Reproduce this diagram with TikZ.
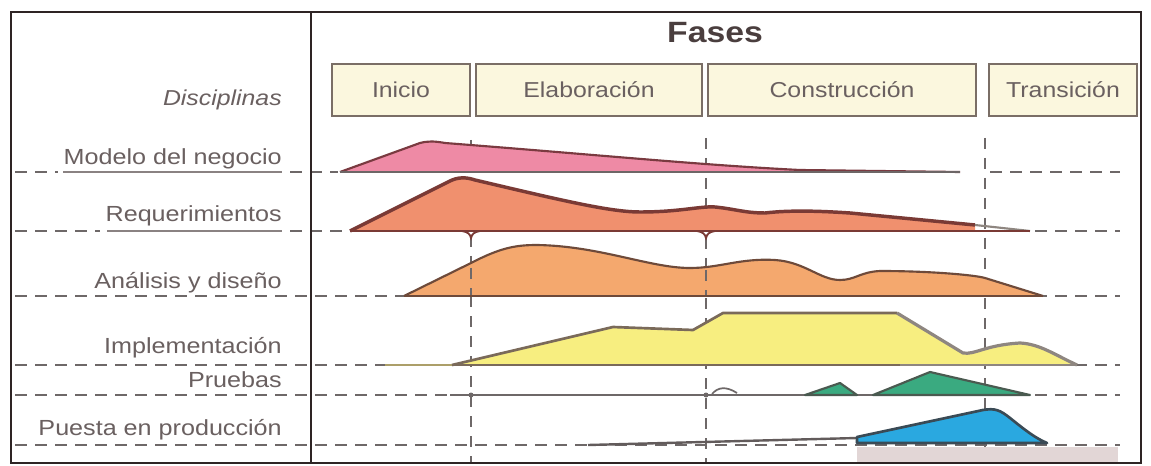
\documentclass[tikz,border=0pt]{standalone}
\usepackage{fontspec}
\setmainfont{Liberation Sans}[FakeStretch=1.15]
\definecolor{txt}{HTML}{6A6060}
\definecolor{fasestxt}{HTML}{4A3E3E}
\definecolor{frame}{HTML}{2E2424}
\definecolor{dashc}{HTML}{6E6868}
\definecolor{ulc}{HTML}{8A8282}
\definecolor{boxfill}{HTML}{FBF7DE}
\definecolor{boxdraw}{HTML}{7A6E66}
\definecolor{pinkF}{HTML}{EE8AA5}
\definecolor{pinkD}{HTML}{7A3A40}
\definecolor{salF}{HTML}{F0906E}
\definecolor{salD}{HTML}{7A3A35}
\definecolor{oraF}{HTML}{F4A86E}
\definecolor{oraD}{HTML}{6E4A3A}
\definecolor{yelF}{HTML}{F7EE80}
\definecolor{yelD}{HTML}{7A6A5A}
\definecolor{yelG}{HTML}{8E8680}
\definecolor{grnF}{HTML}{3AAA80}
\definecolor{grnD}{HTML}{4A5A50}
\definecolor{bluF}{HTML}{2AA8E0}
\definecolor{bluD}{HTML}{3A4A55}
\definecolor{pinkbar}{HTML}{E2D6D6}
\begin{document}
\begin{tikzpicture}[x=0.75pt,y=-0.75pt,
  lbl/.style={anchor=base east, text=txt, inner sep=0pt, font=\fontsize{16.4}{18}\selectfont},
  phasebox/.style={draw=boxdraw, fill=boxfill, line width=1.3pt, text=txt, inner sep=0pt,
     minimum height=39pt, font=\fontsize{16.2}{18}\selectfont},
  hdash/.style={draw=dashc, line width=1.5pt, dash pattern=on 9pt off 6pt},
  vdash/.style={draw=dashc, line width=1.5pt, dash pattern=on 8pt off 7pt},
  uline/.style={draw=ulc, line width=1.5pt},
  hump/.style={line width=1.6pt, line join=round},
  base/.style={line width=1.4pt}]
\useasboundingbox (0,0) rectangle (1151,466);
\fill[white] (0,0) rectangle (1151,466);

% header
\node[anchor=base, text=fasestxt, inner sep=0pt, font=\fontsize{22}{24}\selectfont\bfseries] (fases) at (715,43) {Fases};
\node[phasebox, minimum width=103.5pt] (inicio) at (401,90) {Inicio};
\node[phasebox, minimum width=169.5pt] (elab) at (589,90) {Elaboración};
\node[phasebox, minimum width=201pt] (constr) at (842,90) {Construcción};
\node[phasebox, minimum width=111pt] (trans) at (1063,90) {Transición};

% left labels
\node[lbl, font=\fontsize{16.2}{18}\selectfont\itshape] (disc) at (282,106) {Disciplinas};
\node[lbl] (l1) at (282,165) {Modelo del negocio};
\node[lbl] (l2) at (282,222) {Requerimientos};
\node[lbl] (l3) at (282,288) {Análisis y diseño};
\node[lbl] (l4) at (282,353) {Implementación};
\node[lbl] (l5) at (282,387) {Pruebas};
\node[lbl] (l6) at (282,435) {Puesta en producción};

% horizontal dashed lines
\draw[hdash] (15,172) -- (58,172);
\draw[hdash] (290,172) -- (338,172);
\draw[hdash] (990,172) -- (1120,172);
\draw[uline] (63,172) -- (282,172);
\draw[hdash] (15,231) -- (100,231);
\draw[hdash] (290,231) -- (348,231);
\draw[hdash] (1035,231) -- (1120,231);
\draw[uline] (107,231) -- (282,231);
\draw[hdash] (15,296) -- (1120,296);
\draw[hdash] (15,365) -- (1120,365);
\draw[hdash] (15,395) -- (1120,395);
\draw[hdash] (15,445) -- (1120,445);

% vertical dashed lines
\draw[vdash] (471,140) -- (471,148);
\draw[vdash] (471,236) -- (471,463);
\draw[vdash] (706,138) -- (706,463);
\draw[vdash] (985,138) -- (985,463);

% Modelo del negocio
\fill[pinkF] (340,172) -- (420,143) .. controls (428,141) and (434,141) .. (445,143)
  .. controls (600,155) and (700,165) .. (800,170) -- (960,172) -- cycle;
\draw[hump, pinkD] (340,172) -- (420,143) .. controls (428,141) and (434,141) .. (445,143)
  .. controls (600,155) and (700,165) .. (800,170) -- (960,172);
\draw[base, draw=frame!70] (340,172) -- (960,172);

% Requerimientos
\fill[salF] (350,231) -- (450,181) .. controls (458,177) and (466,177) .. (475,180)
  .. controls (560,200) and (610,212) .. (640,212)
  .. controls (680,212) and (700,206) .. (715,207)
  .. controls (735,209) and (745,213) .. (765,213)
  .. controls (790,210) and (820,211) .. (850,213)
  -- (975,225) -- (975,231) -- cycle;
\draw[hump, salD, line width=2.6pt] (350,231) -- (450,181) .. controls (458,177) and (466,177) .. (475,180)
  .. controls (560,200) and (610,212) .. (640,212)
  .. controls (680,212) and (700,206) .. (715,207)
  .. controls (735,209) and (745,213) .. (765,213)
  .. controls (790,210) and (820,211) .. (850,213)
  -- (975,225);
\draw[hump, yelG] (975,225) -- (1030,231);
\draw[base, draw=salD] (350,231) -- (1030,231);
\draw[salD, line width=1.4pt] (462,231) .. controls (468,232) and (470,234) .. (471,238)
  .. controls (472,234) and (474,232) .. (480,231);
\draw[salD, line width=1.4pt] (697,231) .. controls (703,232) and (705,234) .. (706,238)
  .. controls (707,234) and (709,232) .. (715,231);

% Análisis y diseño
\fill[oraF] (404,296) -- (471,263) .. controls (500,248) and (515,245) .. (537,245)
  .. controls (600,246) and (650,268) .. (690,268)
  .. controls (720,268) and (740,258) .. (775,260)
  .. controls (805,262) and (820,280) .. (840,280)
  .. controls (855,280) and (860,272) .. (880,271)
  .. controls (930,271) and (975,275) .. (985,278)
  -- (1043,296) -- cycle;
\draw[vdash] (471,268) -- (471,296);
\draw[vdash] (706,270) -- (706,296);
\draw[hump, oraD] (404,296) -- (471,263) .. controls (500,248) and (515,245) .. (537,245)
  .. controls (600,246) and (650,268) .. (690,268)
  .. controls (720,268) and (740,258) .. (775,260)
  .. controls (805,262) and (820,280) .. (840,280)
  .. controls (855,280) and (860,272) .. (880,271)
  .. controls (930,271) and (975,275) .. (985,278)
  -- (1043,296);
\draw[base, draw=oraD] (404,296) -- (1043,296);

% Implementación
\draw[line width=1.6pt, draw=yelD!60!yelF] (385,365) -- (452,365);
\fill[yelF] (452,365) -- (613,327) -- (693,330) -- (723,313) -- (897,313) -- (963,353)
  .. controls (975,355) and (985,345) .. (1020,343)
  .. controls (1040,344) and (1055,355) .. (1077,365) -- cycle;
\draw[hump, yelD, line width=2pt] (452,365) -- (613,327) -- (693,330) -- (723,313) -- (897,313);
\draw[hump, yelG, line width=2.4pt] (897,313) -- (963,353)
  .. controls (975,355) and (985,345) .. (1020,343)
  .. controls (1040,344) and (1055,355) .. (1077,365);
\draw[base, draw=yelD, line width=1.8pt] (452,365) -- (900,365);
\draw[base, draw=yelG, line width=2.2pt] (900,365) -- (1077,365);

% Pruebas
\draw[base, draw=dashc, line width=1.8pt] (450,395) -- (1030,395);
\fill[dashc] (471,395) circle (2.5);
\fill[dashc] (706,395) circle (2.5);
\draw[line width=1.3pt, draw=dashc, fill=white] (712,394) .. controls (718,387) and (726,386) .. (737,393);
\filldraw[hump, fill=grnF, draw=grnD] (805,395) -- (840,383) -- (857,395) -- cycle;
\filldraw[hump, fill=grnF, draw=grnD] (873,395) -- (930,372) -- (1030,395) -- cycle;

% Puesta en producción
\fill[pinkbar] (857,447) rectangle (1118,463);
\draw[line width=1.8pt, draw=frame!75] (588,445) -- (857,438);
\filldraw[hump, fill=bluF, draw=bluD, line width=2pt] (857,443) -- (857,437) -- (983,410)
  .. controls (995,408) and (1000,410) .. (1010,418)
  .. controls (1025,430) and (1035,438) .. (1047,443) -- cycle;

% frame
\draw[frame, line width=2.2pt] (11,12) rectangle (1141,463);
\draw[frame, line width=2.2pt] (311,12) -- (311,463);
\end{tikzpicture}
\end{document}
